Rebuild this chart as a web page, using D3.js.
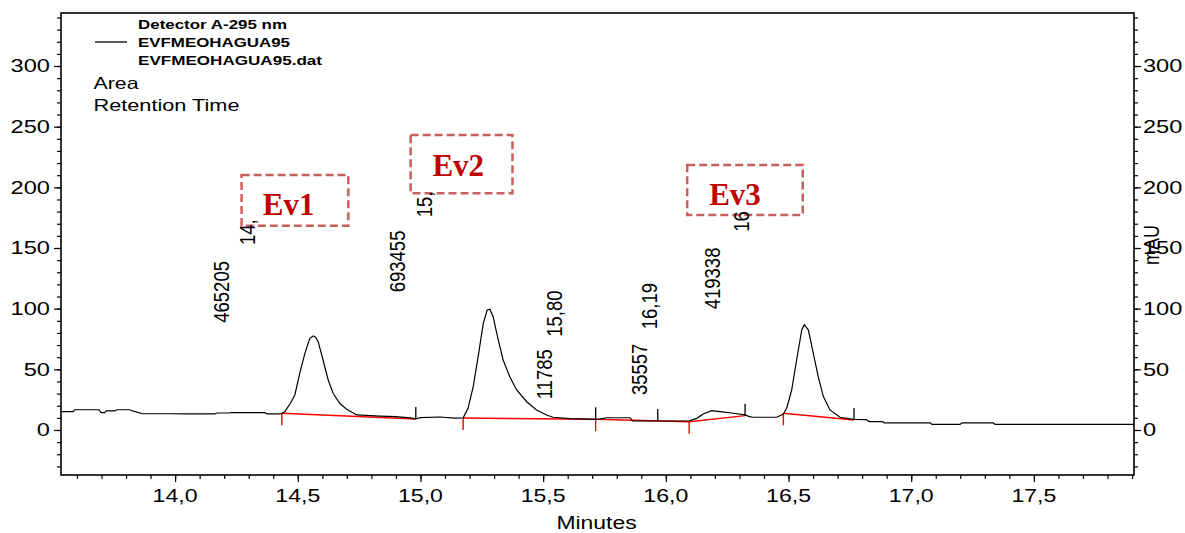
<!DOCTYPE html>
<html>
<head>
<meta charset="utf-8">
<script src="https://cdn.jsdelivr.net/npm/d3@7"></script>
<style>
  html, body { margin: 0; padding: 0; background: #fff; }
  svg { display: block; }
  text { font-family: "Liberation Sans", Arial, sans-serif; }
</style>
</head>
<body>
<svg id="chart" width="1185" height="533"></svg>
<script>
// ---------------- DATA ----------------
// chromatogram trace: retention time (min) and signal (mAU)
const traceTime = [13.534, 13.585, 13.591, 13.690, 13.698, 13.713, 13.720, 13.755, 13.762, 13.815, 13.830, 13.868, 13.978, 14.050, 14.162, 14.170, 14.223, 14.230, 14.366, 14.375, 14.427,
  14.435, 14.447, 14.470, 14.488, 14.508, 14.529, 14.549, 14.563, 14.573, 14.583, 14.603, 14.624, 14.644, 14.671, 14.699, 14.740, 14.780, 14.834, 14.900, 14.957, 14.981, 15.000, 15.079, 15.140, 15.174,
  15.194, 15.215, 15.235, 15.256, 15.272, 15.283, 15.296, 15.317, 15.337, 15.364, 15.392, 15.433, 15.473, 15.514, 15.540, 15.609, 15.714, 15.730, 15.759, 15.854, 15.865, 15.962, 16.095,
  16.110, 16.126, 16.152, 16.187, 16.221, 16.275, 16.323, 16.340, 16.356, 16.452, 16.479, 16.492, 16.500, 16.513, 16.533, 16.554, 16.564, 16.581, 16.601, 16.621, 16.642, 16.669, 16.710, 16.764,
  16.816, 16.830, 16.885, 16.890, 17.077, 17.085, 17.199, 17.207, 17.334, 17.342, 17.908];
const traceValue = [15.1, 15.1, 16.7, 16.7, 14.3, 14.3, 15.7, 15.7, 16.7, 16.7, 15.5, 13.4, 13.4, 13.2, 13.2, 14.0, 14.0, 14.3, 14.3, 13.2, 13.2,
  13.8, 15.1, 22.0, 28.9, 46.7, 63.2, 75.6, 77.5, 76.5, 72.8, 57.7, 41.2, 30.3, 22.0, 17.1, 12.4, 12.0, 11.5, 11.0, 10.0, 9.2, 10.2, 10.7, 9.8, 10.0,
  17.9, 35.7, 60.4, 87.9, 98.9, 99.5, 93.4, 74.2, 57.7, 43.9, 33.0, 23.3, 16.5, 12.4, 10.5, 9.3, 8.8, 9.0, 10.1, 10.1, 7.4, 7.4, 7.4,
  8.5, 9.6, 13.2, 15.9, 15.1, 13.8, 12.4, 11.0, 10.5, 10.5, 13.2, 17.9, 23.3, 33.0, 57.7, 82.4, 86.8, 82.4, 63.2, 43.9, 27.5, 16.5, 10.5, 8.8,
  8.5, 6.9, 6.9, 5.8, 5.8, 4.6, 4.6, 5.8, 5.8, 4.6, 4.6];

// integration baselines (red), one segment per entry
const baseStartTime = [14.435, 15.174, 15.714, 16.095, 16.479];
const baseStartValue = [13.8, 9.9, 8.8, 6.8, 13.8];
const baseEndTime = [14.981, 15.714, 16.095, 16.323, 16.767];
const baseEndValue = [9.1, 8.8, 6.8, 11.8, 8.2];

// peak end event markers (black)
const endMarkTime = [14.981, 15.714, 15.967, 16.323, 16.767];
const endMarkValue = [9.1, 8.8, 7.4, 11.8, 8.2];

// annotation labels (area / retention time)
const labelText = ["465205", "14,", "693455", "15,", "11785", "15,80", "35557", "16,19", "419338", "16"];
const labelTime = [14.219, 14.325, 14.936, 15.047, 15.536, 15.578, 15.923, 15.962, 16.221, 16.339];
const labelValue = [88.4, 152.5, 113.5, 175.3, 25.3, 76.9, 28.8, 83.0, 99.5, 163.4];

// highlighted events
const evName = ["Ev1", "Ev2", "Ev3"];
const evT0 = [14.271, 14.960, 16.087];
const evT1 = [14.706, 15.375, 16.558];
const evVTop = [210.1, 243.1, 218.4];
const evVBottom = [168.3, 195.1, 177.2];
const evTextT = [14.463, 15.154, 16.282];
const evTextV = [177.2, 209.6, 185.4];

// axes
const yMajorTicks = [0, 50, 100, 150, 200, 250, 300];
const xMajorTicks = [14.0, 14.5, 15.0, 15.5, 16.0, 16.5, 17.0, 17.5];
const legendLines = ["Detector A-295 nm", "EVFMEOHAGUA95", "EVFMEOHAGUA95.dat"];
const legendExtra = ["Area", "Retention Time"];

// ---------------- CHART ----------------
const svg = d3.select("#chart");
const L = 61, R = 1134, T = 13, B = 475;
const x = d3.scaleLinear().domain([13.535, 17.908]).range([L, R]);
const y = d3.scaleLinear().domain([-37.1, 343.7]).range([B, T]);

function stext(g, str, px, py, o) {
  const t = g.append("text")
    .attr("transform", `translate(${px},${py}) scale(${o.sx || 1},1)` + (o.rotate ? ` rotate(${o.rotate})` : ""))
    .attr("text-anchor", o.anchor || "start")
    .attr("font-size", o.size)
    .attr("fill", o.fill || "#000")
    .text(str);
  if (o.weight) t.attr("font-weight", o.weight);
  if (o.family) t.style("font-family", o.family);
  if (o.len) t.attr("textLength", o.len).attr("lengthAdjust", "spacingAndGlyphs");
  return t;
}

// minor tick lists
const yMinor = d3.range(-30, 341, 10);
const xMinor = d3.range(136, 180, 1).map(d => d / 10);

// left axis
const axL = svg.append("g").attr("transform", `translate(${L},0)`);
axL.call(d3.axisLeft(y).tickValues(yMinor).tickSize(4).tickFormat(""));
axL.call(g => g.append("g").call(d3.axisLeft(y).tickValues(yMajorTicks).tickSize(7).tickFormat("")));
// right axis
const axR = svg.append("g").attr("transform", `translate(${R},0)`);
axR.call(d3.axisRight(y).tickValues(yMinor).tickSize(4).tickFormat(""));
axR.call(g => g.append("g").call(d3.axisRight(y).tickValues(yMajorTicks).tickSize(7).tickFormat("")));
// bottom axis
const axB = svg.append("g").attr("transform", `translate(0,${B})`);
axB.call(d3.axisBottom(x).tickValues(xMinor).tickSize(4).tickFormat(""));
axB.call(g => g.append("g").call(d3.axisBottom(x).tickValues(xMajorTicks).tickSize(7).tickFormat("")));
svg.selectAll(".domain").remove();
svg.selectAll(".tick line").attr("stroke", "#000").attr("stroke-width", 1.2);

// frame
svg.append("rect").attr("x", L).attr("y", T).attr("width", R - L).attr("height", B - T)
  .attr("fill", "none").attr("stroke", "#000").attr("stroke-width", 1.6);

// tick labels
const fmt = d => d3.format(".1f")(d).replace(".", ",");
yMajorTicks.forEach(v => {
  stext(svg, String(v), L - 11, y(v) + 6.3, { size: 17.5, sx: 1.35, anchor: "end" });
  stext(svg, String(v), R + 9, y(v) + 6.3, { size: 17.5, sx: 1.35, anchor: "start" });
});
xMajorTicks.forEach(v => {
  stext(svg, fmt(v), x(v), 502, { size: 17.5, sx: 1.32, anchor: "middle" });
});
stext(svg, "Minutes", 596.5, 529, { size: 17.5, sx: 1.31, anchor: "middle" });
stext(svg, "mAU", 1159, 245, { size: 18, sx: 1.2, anchor: "middle", rotate: -90 });

// legend
svg.append("line").attr("x1", 95).attr("x2", 127).attr("y1", 42).attr("y2", 42)
  .attr("stroke", "#000").attr("stroke-width", 1.3);
const legY = [29.3, 47.3, 65];
const legLen = [149, 152, 184];
legendLines.forEach((s, i) => stext(svg, s, 138, legY[i], { size: 12.5, weight: "bold", len: legLen[i] }));
stext(svg, legendExtra[0], 93.5, 89, { size: 16.5, len: 45 });
stext(svg, legendExtra[1], 93.5, 111, { size: 16.5, len: 146 });

// red integration baselines
const red = svg.append("g").attr("stroke", "#ff0000").attr("stroke-width", 1.4).attr("fill", "none");
baseStartTime.forEach((t, i) => {
  red.append("line").attr("x1", x(t)).attr("y1", y(baseStartValue[i]))
    .attr("x2", x(baseEndTime[i])).attr("y2", y(baseEndValue[i]));
  red.append("line").attr("x1", x(t)).attr("x2", x(t))
    .attr("y1", y(baseStartValue[i])).attr("y2", y(baseStartValue[i]) + 12);
});

// trace
const pts = traceTime.map((t, i) => [t, traceValue[i]]);
svg.append("path").datum(pts)
  .attr("d", d3.line().x(d => x(d[0])).y(d => y(d[1])))
  .attr("fill", "none").attr("stroke", "#000").attr("stroke-width", 1.2);

// black end markers
endMarkTime.forEach((t, i) => {
  svg.append("line").attr("x1", x(t)).attr("x2", x(t))
    .attr("y1", y(endMarkValue[i])).attr("y2", y(endMarkValue[i]) - 12)
    .attr("stroke", "#000").attr("stroke-width", 1.3);
});

// event boxes
evName.forEach((n, i) => {
  svg.append("rect")
    .attr("x", x(evT0[i])).attr("y", y(evVTop[i]))
    .attr("width", x(evT1[i]) - x(evT0[i])).attr("height", y(evVBottom[i]) - y(evVTop[i]))
    .attr("fill", "#fff").attr("stroke", "#c0504d").attr("stroke-opacity", 0.9)
    .attr("stroke-width", 2.5).attr("stroke-dasharray", "8,4");
  stext(svg, n, x(evTextT[i]), y(evTextV[i]), { size: 31, weight: "bold", anchor: "middle", fill: "#c00000", family: "'Liberation Serif', 'Times New Roman', serif" });
});

// peak labels (rotated)
labelText.forEach((s, i) => {
  stext(svg, s, x(labelTime[i]), y(labelValue[i]), { size: 18.5, sx: 1.2, rotate: -90 });
});
</script>
</body>
</html>
